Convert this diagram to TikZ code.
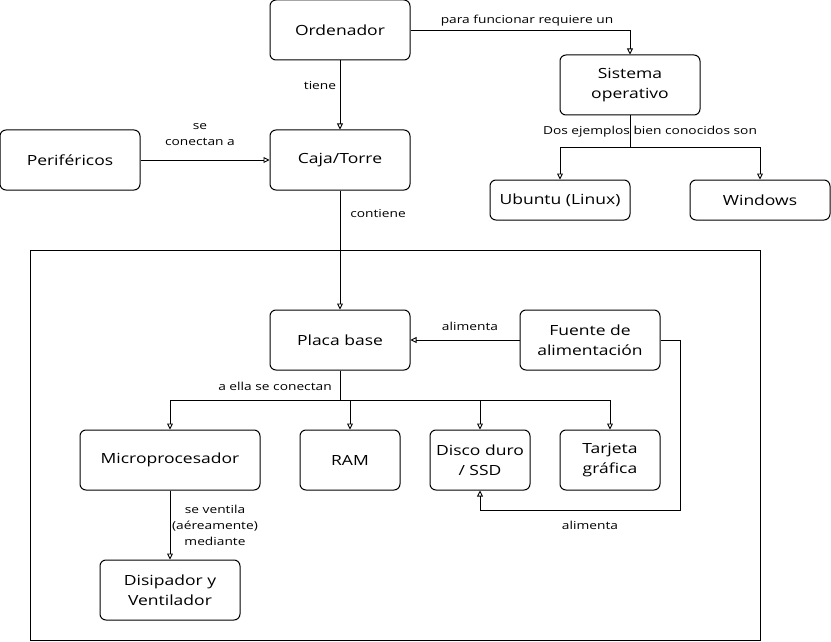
\documentclass[tikz,border=0pt]{standalone}
\usepackage{fontspec}
\setmainfont{Open Sans}[FakeStretch=1.25]
\usetikzlibrary{arrows.meta}
\begin{document}
\begin{tikzpicture}[x=1pt,y=-1pt,
  box/.style={draw,rounded corners=6pt,line width=1pt,align=center,font=\fontsize{14}{20}\selectfont,inner sep=0pt},
  lbl/.style={font=\fontsize{11}{16}\selectfont,align=center,inner sep=1pt},
  conn/.style={draw,line width=0.9pt,-{Triangle[open,length=6pt,width=6pt]}},
  plain/.style={draw,line width=0.9pt}]
\useasboundingbox (0,0) rectangle (831,642);
\draw[line width=1pt] (30,250) rectangle (760,640);
\node[box,minimum width=140pt,minimum height=60pt] (ord) at (340,30) {Ordenador};
\node[box,minimum width=140pt,minimum height=60pt] (so) at (630,85) {Sistema\\operativo};
\node[box,minimum width=140pt,minimum height=60pt] (per) at (70,160) {Periféricos};
\node[box,minimum width=140pt,minimum height=60pt] (caja) at (340,160) {Caja/Torre};
\node[box,minimum width=140pt,minimum height=40pt] (ubu) at (560,200) {Ubuntu (Linux)};
\node[box,minimum width=140pt,minimum height=40pt] (win) at (760,200) {Windows};
\node[box,minimum width=140pt,minimum height=60pt] (placa) at (340,340) {Placa base};
\node[box,minimum width=140pt,minimum height=60pt] (fuente) at (590,340) {Fuente de\\alimentación};
\node[box,minimum width=180pt,minimum height=60pt] (micro) at (170,460) {Microprocesador};
\node[box,minimum width=100pt,minimum height=60pt] (ram) at (350,460) {RAM};
\node[box,minimum width=100pt,minimum height=60pt] (disco) at (480,460) {Disco duro\\/ SSD};
\node[box,minimum width=100pt,minimum height=60pt] (tarj) at (610,460) {Tarjeta\\gráfica};
\node[box,minimum width=140pt,minimum height=60pt] (disi) at (170,590) {Disipador y\\Ventilador};
% connectors
\draw[conn] (ord.east) -| (so.north);
\node[lbl] (l1) at (527,21) {para funcionar requiere un};
\draw[conn] (ord.south) -- (caja.north);
\node[lbl] (l2) at (320,86) {tiene};
\draw[conn] (per.east) -- (caja.west);
\node[lbl] (l3) at (200,135) {se\\conectan a};
\draw[conn] (caja.south) -- (placa.north);
\node[lbl] (l4) at (378,214) {contiene};
\coordinate (sob) at (630,147);
\draw[plain] (so.south) -- (sob);
\draw[conn] (sob) -| (ubu.north);
\draw[conn] (sob) -| (win.north);
\node[lbl] (l5) at (650,132) {Dos ejemplos bien conocidos son};
\coordinate (pb) at (340,400);
\draw[plain] (placa.south) -- (pb);
\draw[conn] (pb) -| (micro.north);
\draw[conn] (pb) -| (ram.north);
\draw[conn] (pb) -| (disco.north);
\draw[conn] (pb) -| (tarj.north);
\node[lbl] (l6) at (275,386) {a ella se conectan};
\draw[conn] (fuente.west) -- (placa.east);
\node[lbl] (l7) at (470,326) {alimenta};
\coordinate (fr) at (680,340);
\coordinate (fb) at (680,510);
\draw[conn] (fuente.east) -- (fr) -- (fb) -| (disco.south);
\node[lbl] (l8) at (590,525) {alimenta};
\draw[conn] (micro.south) -- (disi.north);
\node[lbl] (l9) at (215,525) {se ventila\\(aéreamente)\\mediante};
\end{tikzpicture}
\end{document}
